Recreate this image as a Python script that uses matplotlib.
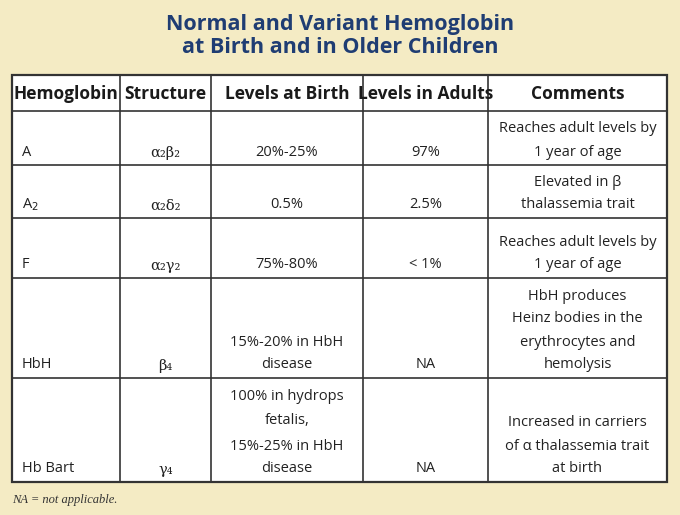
import matplotlib
matplotlib.use("Agg")
import matplotlib.pyplot as plt

title = "Normal and Variant Hemoglobin\nat Birth and in Older Children"
headers = ["Hemoglobin", "Structure", "Levels at Birth", "Levels in Adults", "Comments"]
hemoglobin = ["A", r"A$_2$", "F", "HbH", "Hb Bart"]
structure = ["α₂β₂", "α₂δ₂", "α₂γ₂", "β₄", "γ₄"]
birth = [["20%-25%"], ["0.5%"], ["75%-80%"], ["15%-20% in HbH", "disease"],
         ["100% in hydrops", "fetalis,", "15%-25% in HbH", "disease"]]
adults = ["97%", "2.5%", "< 1%", "NA", "NA"]
comments = [["Reaches adult levels by", "1 year of age"],
            ["Elevated in β", "thalassemia trait"],
            ["Reaches adult levels by", "1 year of age"],
            ["HbH produces", "Heinz bodies in the", "erythrocytes and", "hemolysis"],
            ["Increased in carriers", "of α thalassemia trait", "at birth"]]
footnote = "NA = not applicable."

bg = "#f4ebc4"
fig = plt.figure(figsize=(6.8, 5.15), dpi=100, facecolor=bg)
ax = fig.add_axes([0, 0, 1, 1])
ax.set_xlim(0, 680); ax.set_ylim(515, 0); ax.axis("off")

cols = [12, 120, 211, 363, 488, 667]
rows = [75, 111, 165, 218, 278, 378, 482]
ax.add_patch(plt.Rectangle((cols[0], rows[0]), cols[-1]-cols[0], rows[-1]-rows[0],
                           facecolor="white", edgecolor="#333333", lw=1.6))
for x in cols[1:-1]:
    ax.plot([x, x], [rows[0], rows[-1]], color="#333333", lw=1.2)
for y in rows[1:-1]:
    ax.plot([cols[0], cols[-1]], [y, y], color="#333333", lw=1.2)

ax.text(340, 36, title, ha="center", va="center", fontsize=15.5, fontweight="bold",
        color="#1f3d73", family="Open Sans", linespacing=1.15)

hfont = dict(family=["Liberation Sans Narrow", "Open Sans"], fontsize=12.5, fontweight="bold", color="#1a1a1a")
for i, h in enumerate(headers):
    ax.text((cols[i]+cols[i+1])/2, 94, h, ha="center", va="center", **hfont)

bfont = dict(family="Open Sans", fontsize=10.5, color="#222222")
lh = 23
for r in range(5):
    bottom = rows[r+2] - 13
    ax.text(22, bottom, hemoglobin[r], ha="left", va="center", **bfont)
    ax.text((cols[1]+cols[2])/2, bottom + 1, structure[r], ha="center", va="center",
            family="DejaVu Serif", fontsize=10.5, color="#222222")
    n = len(birth[r])
    for k, line in enumerate(birth[r]):
        y = bottom - (n-1-k)*lh - (3 if r == 4 and k < 2 else 0)
        ax.text((cols[2]+cols[3])/2, y, line, ha="center", va="center", **bfont)
    ax.text((cols[3]+cols[4])/2, bottom, adults[r], ha="center", va="center", **bfont)
    n = len(comments[r])
    for k, line in enumerate(comments[r]):
        y = bottom - (n-1-k)*lh
        ax.text((cols[4]+cols[5])/2, y, line, ha="center", va="center", **bfont)

ax.text(12, 500, footnote, ha="left", va="center", family="Liberation Serif",
        style="italic", fontsize=9, color="#333333")
fig.savefig("out.png", dpi=100, facecolor=bg)
